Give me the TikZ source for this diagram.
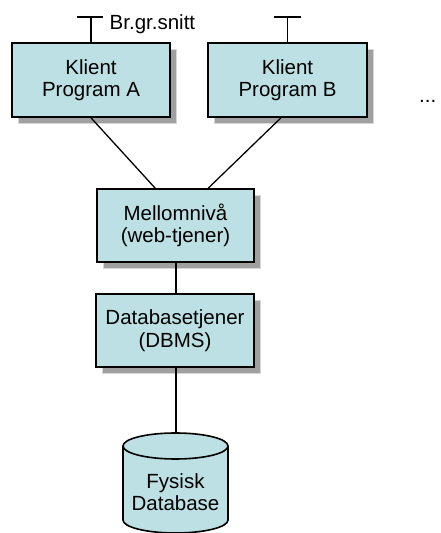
\documentclass[tikz,border=0pt]{standalone}
\usepackage{fontspec}
\setmainfont{Liberation Sans}
\usetikzlibrary{shadows,calc}
\definecolor{boxfill}{RGB}{188,224,228}
\definecolor{shadowgray}{RGB}{160,160,160}
\definecolor{shadowline}{RGB}{215,215,215}
\begin{document}
\begin{tikzpicture}[x=1pt,y=1pt,
  tier/.style={draw=black,line width=1.6pt,fill=boxfill,rectangle,align=center,
    inner sep=0pt,
    general shadow={fill=shadowgray,draw=shadowline,line width=0.8pt,
      shadow xshift=6.5pt,shadow yshift=-6.5pt}},
  conn/.style={draw=black,line width=1.3pt},
  lbl/.style={font=\fontsize{20.5}{22.5}\selectfont,align=center,inner sep=0pt},
  every node/.append style={font=\fontsize{20.5}{22.5}\selectfont}]
\useasboundingbox (0,0) rectangle (441,533);
% boxes
\node[tier,minimum width=158pt,minimum height=74pt] (A) at (91,453) {Klient\\Program A};
\node[tier,minimum width=159pt,minimum height=74pt] (B) at (287.5,453) {Klient\\Program B};
\node[tier,minimum width=157pt,minimum height=73pt] (M) at (175.5,307.5) {Mellomnivå\\(web-tjener)};
\node[tier,minimum width=158pt,minimum height=73pt] (D) at (175,202.5) {Databasetjener\\(DBMS)};
% interface symbols
\coordinate (Atop) at (91,516);
\coordinate (Btop) at (287.5,516);
\coordinate (AbarL) at (77,516);
\coordinate (AbarR) at (103,516);
\coordinate (BbarL) at (274,516);
\coordinate (BbarR) at (301,516);
\draw[conn] (A.north) -- (Atop);
\draw[conn] (AbarL) -- (AbarR);
\draw[conn] (B.north) -- (Btop);
\draw[conn] (BbarL) -- (BbarR);
\node[lbl,anchor=base west] (if) at (109.5,503) {Br.gr.snitt};
\node[lbl,anchor=base west] (dots) at (419,430) {...};
% database cylinder
\filldraw[draw=black,line width=1.6pt,fill=boxfill]
  (123,87) -- (123,13) arc[start angle=180,end angle=360,x radius=52.5,y radius=13]
  -- (228,87) arc[start angle=0,end angle=180,x radius=52.5,y radius=13] -- cycle;
\draw[line width=1.6pt] (123,87) arc[start angle=180,end angle=360,x radius=52.5,y radius=13];
\coordinate (cyltop) at (176,100);
\node[lbl] (fys) at (175.5,41) {Fysisk\\Database};
% connectors
\draw[conn] (A.south) -- ($(M.north west)+(59,0)$);
\draw[conn] ($(B.south)+(-6.5,0)$) -- ($(M.north west)+(112,0)$);
\draw[conn] ($(M.south)+(0.5,0)$) -- ($(D.north)+(1,0)$);
\draw[conn] ($(D.south)+(1,0)$) -- (cyltop);
\end{tikzpicture}
\end{document}
